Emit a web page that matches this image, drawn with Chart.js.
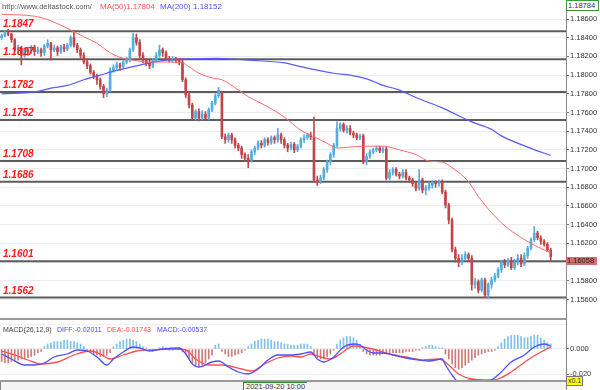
<!DOCTYPE html>
<html><head><meta charset="utf-8">
<script src="https://cdn.jsdelivr.net/npm/chart.js@4.4.1/dist/chart.umd.min.js"></script>
<style>
html,body{margin:0;padding:0;background:#fff;}
#wrap{position:relative;width:600px;height:390px;overflow:hidden;background:#fff;font-family:'Liberation Sans',Arial,sans-serif;}
canvas{position:absolute;left:0;}
.t{position:absolute;font-size:8px;line-height:9px;white-space:nowrap;}
.m{font-size:7px;}
.lv{position:absolute;left:3px;font:italic bold 10px 'Liberation Sans',Arial,sans-serif;line-height:10px;color:#ff1a1a;white-space:nowrap;}
</style></head><body>
<div id="wrap">
<canvas id="main" width="600" height="320" style="top:0"></canvas>
<canvas id="macd" width="600" height="70" style="top:320px"></canvas>
<div style="position:absolute;left:0;top:318px;width:566px;height:2px;background:#9a9a9a"></div>
<div style="position:absolute;left:0;top:324px;width:566px;height:1px;background:#eeeeee"></div>
<div style="position:absolute;left:0;top:380px;width:566px;height:2px;background:#9a9a9a"></div>
<div style="position:absolute;left:0;top:382px;width:566px;height:8px;background:#f3f3f3;border-left:1px solid #888"></div>
<div style="position:absolute;left:566px;top:0;width:1px;height:390px;background:#8a8a8a"></div>
<div class="t" style="left:2px;top:2px;color:#555;font-size:7.6px">http://www.deltastock.com/</div>
<div class="t" style="left:100px;top:2px;color:#ff5050">MA(50)</div>
<div class="t" style="left:126px;top:2px;color:#ff5050">1.17804</div>
<div class="t" style="left:160px;top:2px;color:#5050ff">MA(200)</div>
<div class="t" style="left:193px;top:2px;color:#5050ff">1.18152</div>
<div class="t m" style="left:3px;top:325px;color:#444">MACD(26,12,9)</div>
<div class="t m" style="left:57px;top:325px;color:#4a4aff">DIFF:-0.02011</div>
<div class="t m" style="left:107px;top:325px;color:#ff4a4a">DEA:-0.01743</div>
<div class="t m" style="left:157px;top:325px;color:#4a4aff">MACD:-0.00537</div>
<div class="t" style="left:243px;top:382px;height:8px;padding:0 2px;background:#fafafa;border-left:1px solid #2a8a2a;border-top:1px solid #2a8a2a;color:#333;font-size:7.5px;line-height:8px;overflow:hidden">2021-09-20 10:00</div>
<div class="t" style="left:566px;top:376px;width:15px;height:8px;background:#ffff00;border:1px solid #777;color:#333;font-size:7px;line-height:8px;text-align:center">x0.1</div>
<div id="topBox" class="t" style="left:566px;top:0;width:30px;height:9px;background:#fff;border:1px solid #3c9a3c;color:#333;font-size:7.5px;line-height:9px;padding-left:1px"></div>
<div id="lastBox" class="t" style="left:566px;width:30px;height:8px;background:#d86c6c;color:#222;font-size:7.5px;line-height:8px;padding-left:1px"></div>
</div>
<script>
// ---- price data (EUR/USD candles) ----
const opens = [
1.1840,1.1842,1.1845,1.1844,1.1838,1.1827,1.1829,1.1821,1.1827,1.1825,
1.1830,1.1825,1.1827,1.1824,1.1831,1.1834,1.1827,1.1829,1.1825,1.1830,
1.1828,1.1832,1.1840,1.1832,1.1827,1.1821,1.1814,1.1810,1.1803,1.1799,
1.1795,1.1788,1.1780,1.1784,1.1805,1.1808,1.1811,1.1809,1.1814,1.1816,
1.1827,1.1840,1.1835,1.1821,1.1816,1.1813,1.1810,1.1816,1.1821,1.1827,
1.1824,1.1818,1.1816,1.1818,1.1816,1.1814,1.1795,1.1779,1.1768,1.1754,
1.1761,1.1754,1.1758,1.1754,1.1763,1.1770,1.1778,1.1781,1.1734,1.1731,
1.1736,1.1731,1.1725,1.1722,1.1715,1.1711,1.1709,1.1718,1.1722,1.1727,
1.1725,1.1731,1.1728,1.1733,1.1731,1.1736,1.1731,1.1725,1.1722,1.1726,
1.1720,1.1724,1.1731,1.1733,1.1736,1.1734,1.1688,1.1686,1.1690,1.1699,
1.1707,1.1715,1.1725,1.1743,1.1747,1.1741,1.1743,1.1738,1.1736,1.1733,
1.1735,1.1707,1.1713,1.1718,1.1720,1.1722,1.1719,1.1721,1.1690,1.1696,
1.1699,1.1694,1.1692,1.1696,1.1690,1.1688,1.1684,1.1679,1.1688,1.1677,
1.1679,1.1682,1.1685,1.1684,1.1686,1.1675,1.1661,1.1645,1.1613,1.1604,
1.1600,1.1604,1.1608,1.1604,1.1576,1.1579,1.1570,1.1581,1.1565,1.1576,
1.1581,1.1585,1.1592,1.1600,1.1597,1.1602,1.1594,1.1600,1.1604,1.1598,
1.1607,1.1615,1.1624,1.1631,1.1626,1.1622,1.1619,1.1613];
const highs = [
1.1844,1.1847,1.1849,1.1845,1.1839,1.1832,1.1831,1.1829,1.1830,1.1832,
1.1832,1.1830,1.1829,1.1833,1.1838,1.1835,1.1832,1.1831,1.1832,1.1833,
1.1834,1.1842,1.1848,1.1834,1.1829,1.1824,1.1816,1.1812,1.1805,1.1801,
1.1797,1.1790,1.1786,1.1808,1.1811,1.1814,1.1813,1.1816,1.1819,1.1829,
1.1845,1.1844,1.1838,1.1824,1.1818,1.1816,1.1818,1.1824,1.1832,1.1829,
1.1826,1.1820,1.1820,1.1819,1.1818,1.1816,1.1797,1.1782,1.1770,1.1763,
1.1764,1.1762,1.1761,1.1765,1.1772,1.1780,1.1787,1.1783,1.1737,1.1738,
1.1738,1.1733,1.1727,1.1724,1.1717,1.1715,1.1720,1.1724,1.1730,1.1730,
1.1733,1.1733,1.1735,1.1735,1.1743,1.1738,1.1733,1.1727,1.1728,1.1728,
1.1726,1.1733,1.1736,1.1738,1.1739,1.1755,1.1692,1.1693,1.1701,1.1709,
1.1717,1.1727,1.1750,1.1749,1.1749,1.1746,1.1746,1.1740,1.1738,1.1737,
1.1737,1.1716,1.1720,1.1722,1.1724,1.1724,1.1723,1.1723,1.1699,1.1701,
1.1701,1.1696,1.1699,1.1699,1.1692,1.1690,1.1686,1.1699,1.1690,1.1682,
1.1685,1.1687,1.1687,1.1688,1.1688,1.1677,1.1663,1.1647,1.1616,1.1608,
1.1608,1.1611,1.1610,1.1607,1.1583,1.1581,1.1583,1.1583,1.1578,1.1584,
1.1588,1.1594,1.1602,1.1603,1.1604,1.1605,1.1603,1.1608,1.1608,1.1610,
1.1617,1.1626,1.1638,1.1633,1.1628,1.1624,1.1621,1.1615];
const lows = [
1.1838,1.1841,1.1842,1.1835,1.1825,1.1824,1.1811,1.1819,1.1821,1.1823,
1.1821,1.1823,1.1820,1.1821,1.1829,1.1816,1.1825,1.1821,1.1823,1.1825,
1.1826,1.1830,1.1830,1.1824,1.1818,1.1812,1.1807,1.1801,1.1796,1.1790,
1.1785,1.1776,1.1777,1.1782,1.1803,1.1805,1.1805,1.1807,1.1812,1.1814,
1.1825,1.1832,1.1818,1.1813,1.1810,1.1807,1.1808,1.1814,1.1819,1.1820,
1.1816,1.1814,1.1814,1.1813,1.1811,1.1793,1.1776,1.1765,1.1752,1.1752,
1.1751,1.1752,1.1752,1.1752,1.1761,1.1768,1.1776,1.1732,1.1727,1.1728,
1.1727,1.1722,1.1719,1.1711,1.1708,1.1701,1.1707,1.1715,1.1720,1.1722,
1.1723,1.1725,1.1726,1.1727,1.1728,1.1727,1.1722,1.1718,1.1720,1.1717,
1.1718,1.1722,1.1728,1.1731,1.1731,1.1686,1.1682,1.1684,1.1688,1.1696,
1.1704,1.1712,1.1723,1.1740,1.1739,1.1738,1.1736,1.1733,1.1731,1.1731,
1.1705,1.1704,1.1711,1.1716,1.1718,1.1717,1.1717,1.1688,1.1688,1.1693,
1.1692,1.1689,1.1690,1.1688,1.1685,1.1681,1.1676,1.1677,1.1674,1.1672,
1.1677,1.1679,1.1680,1.1681,1.1673,1.1658,1.1641,1.1611,1.1600,1.1595,
1.1597,1.1602,1.1601,1.1570,1.1572,1.1567,1.1568,1.1562,1.1562,1.1572,
1.1579,1.1583,1.1589,1.1594,1.1595,1.1592,1.1592,1.1597,1.1595,1.1596,
1.1604,1.1613,1.1622,1.1624,1.1619,1.1617,1.1611,1.1602];
const closes = [
1.1842,1.1845,1.1844,1.1838,1.1827,1.1829,1.1821,1.1827,1.1825,1.1830,
1.1825,1.1827,1.1824,1.1831,1.1834,1.1827,1.1829,1.1825,1.1830,1.1828,
1.1832,1.1840,1.1832,1.1827,1.1821,1.1814,1.1810,1.1803,1.1799,1.1795,
1.1788,1.1780,1.1784,1.1805,1.1808,1.1811,1.1809,1.1814,1.1816,1.1827,
1.1840,1.1835,1.1821,1.1816,1.1813,1.1810,1.1816,1.1821,1.1827,1.1824,
1.1818,1.1816,1.1818,1.1816,1.1814,1.1795,1.1779,1.1768,1.1754,1.1761,
1.1754,1.1758,1.1754,1.1763,1.1770,1.1778,1.1784,1.1734,1.1731,1.1736,
1.1731,1.1725,1.1722,1.1715,1.1711,1.1709,1.1718,1.1722,1.1727,1.1725,
1.1731,1.1728,1.1733,1.1731,1.1736,1.1731,1.1725,1.1722,1.1726,1.1720,
1.1724,1.1731,1.1733,1.1736,1.1734,1.1688,1.1686,1.1690,1.1699,1.1707,
1.1715,1.1725,1.1743,1.1747,1.1741,1.1743,1.1738,1.1736,1.1733,1.1735,
1.1707,1.1713,1.1718,1.1720,1.1722,1.1719,1.1721,1.1690,1.1696,1.1699,
1.1694,1.1692,1.1696,1.1690,1.1688,1.1684,1.1679,1.1688,1.1677,1.1679,
1.1682,1.1685,1.1684,1.1686,1.1675,1.1661,1.1645,1.1613,1.1604,1.1600,
1.1604,1.1608,1.1604,1.1576,1.1579,1.1570,1.1581,1.1565,1.1576,1.1581,
1.1585,1.1592,1.1600,1.1597,1.1602,1.1594,1.1600,1.1604,1.1598,1.1607,
1.1615,1.1624,1.1631,1.1626,1.1622,1.1619,1.1613,1.16058];

// moving averages (candle index -> value)
const ma50At = [0,10,15,20,25,29,33,36,40,45,50,55,57,60,64,67,70,75,81,86,91,95,99,102,106,111,116,121,126,130,134,137,142,145,152,161,167];
const ma50 = [1.1865,1.1863,1.1858,1.1850,1.1841,1.1834,1.1824,1.1819,1.1816,1.1814,1.1814,1.1813,1.1809,1.1802,1.1797,1.1795,1.1789,1.1777,1.1766,1.1755,1.1741,1.1734,1.1727,1.1722,1.1723,1.1724,1.1724,1.1720,1.1715,1.1708,1.1707,1.1701,1.1686,1.1670,1.1642,1.1620,1.1610];
const ma200At = [0,10,15,20,25,30,35,40,45,50,55,65,75,86,91,101,106,111,116,121,126,134,143,149,152,160,167];
const ma200 = [1.1780,1.1782,1.1786,1.1789,1.1795,1.1800,1.1805,1.1809,1.1813,1.1816,1.1817,1.1818,1.1816,1.1813,1.1809,1.1802,1.1800,1.1796,1.1789,1.1784,1.1776,1.1765,1.1750,1.1742,1.1735,1.1723,1.1714];

// horizontal levels
const levels = [1.1847,1.1817,1.1782,1.1752,1.1708,1.1686,1.1601,1.1562];

// MACD pane
const macdTicks = [-0.02, 0];
const diffAt = [0,3,7,10,13,16,20,23,26,29,32,34,37,40,42,45,49,54,56,58,60,64,66,69,72,75,78,81,84,88,91,94,96,98,101,104,107,109,111,113,116,119,123,127,130,134,135,137,139,143,148,151,155,159,162,165,167];
const diff = [-0.0040,-0.0080,-0.0128,-0.0128,-0.0112,-0.0064,-0.0040,-0.0008,-0.0016,-0.0064,-0.0128,-0.0080,-0.0024,0.0016,0.0008,-0.0016,0.0000,0.0008,-0.0040,-0.0120,-0.0144,-0.0104,-0.0096,-0.0144,-0.0184,-0.0200,-0.0160,-0.0088,-0.0048,-0.0048,-0.0040,-0.0024,-0.0080,-0.0104,-0.0064,0.0016,0.0040,0.0032,-0.0008,-0.0032,-0.0032,-0.0048,-0.0072,-0.0088,-0.0096,-0.0080,-0.0128,-0.0208,-0.0264,-0.0248,-0.0256,-0.0208,-0.0104,-0.0048,0.0016,0.0040,0.0024];
const deaAt = [0,4,8,12,17,22,27,30,33,37,41,46,52,56,59,63,67,73,76,80,84,88,91,94,97,100,103,107,110,114,118,123,128,133,136,139,143,148,151,155,160,164,167];
const dea = [-0.0016,-0.0048,-0.0088,-0.0120,-0.0104,-0.0048,-0.0016,-0.0040,-0.0080,-0.0048,-0.0016,-0.0008,0.0000,-0.0008,-0.0080,-0.0128,-0.0128,-0.0160,-0.0176,-0.0120,-0.0072,-0.0056,-0.0064,-0.0040,-0.0064,-0.0080,-0.0040,0.0024,0.0016,-0.0008,-0.0040,-0.0064,-0.0088,-0.0080,-0.0128,-0.0200,-0.0240,-0.0248,-0.0240,-0.0184,-0.0088,-0.0024,0.0016];
const macdHist = [
-0.010,-0.011,-0.011,-0.010,-0.010,-0.009,-0.008,-0.008,-0.007,-0.006,-0.005,-0.003,-0.002,
0.002,0.004,0.005,0.006,0.006,0.006,0.007,0.007,0.006,0.006,0.005,0.004,0.002,
-0.002,-0.003,-0.004,-0.005,-0.006,-0.006,-0.005,-0.003,
0.002,0.004,0.006,0.007,0.008,0.008,0.007,0.006,0.004,
0.002,0.001,-0.001,-0.002,-0.001,0.001,0.002,0.001,-0.001,-0.001,0.000,0.001,-0.002,
-0.004,-0.008,-0.011,-0.013,-0.014,-0.013,-0.011,-0.008,-0.005,
0.003,0.004,
-0.002,-0.004,-0.006,-0.006,-0.005,-0.004,-0.003,-0.001,
0.002,0.004,0.006,0.007,0.008,0.008,0.008,0.007,0.006,0.006,0.005,0.004,0.004,
0.003,0.003,0.003,0.004,0.004,0.004,0.002,
-0.004,-0.007,-0.008,-0.008,-0.006,-0.004,-0.001,
0.004,0.007,0.009,0.010,0.010,0.009,0.007,0.004,
-0.002,-0.004,-0.005,-0.005,-0.005,-0.005,-0.004,-0.004,-0.004,-0.003,-0.003,-0.003,-0.003,-0.002,-0.002,-0.002,-0.001,-0.001,
0.001,0.002,0.003,0.003,0.002,0.001,0.001,
-0.004,-0.008,-0.012,-0.015,-0.016,-0.015,-0.013,-0.011,-0.009,-0.007,-0.005,
-0.004,-0.003,-0.002,-0.002,-0.001,
0.002,0.005,0.008,0.010,0.011,0.011,0.011,0.010,0.009,0.009,0.010,0.011,0.011,0.009,0.007,0.005,0.004];

// ---- build charts ----
Chart.defaults.font.family = "'Liberation Sans', Arial, sans-serif";
const N = closes.length;
const idx = closes.map((_, i) => i);
const UP = '#55acdf', DN = '#c1464a';
const cCol = idx.map(i => closes[i] >= opens[i] ? UP : DN);
const xMin = -0.49, xMax = 171.65;
const yMin = 1.15402, yMax = 1.18782;

const common = () => ({
  responsive: false, animation: false, devicePixelRatio: 1,
  plugins: { legend: { display: false }, tooltip: { enabled: false } },
  scales: {
    x: { type: 'linear', min: xMin, max: xMax, offset: false, display: false }
  }
});

const mainOpts = common();
mainOpts.layout = { padding: { top: 2, bottom: 2, left: 0, right: 0 } };
mainOpts.scales.y = {
  type: 'linear', position: 'right', min: yMin, max: yMax,
  afterFit(s) { s.width = 34; s.paddingTop = 0; s.paddingBottom = 0; },
  afterBuildTicks(s) { s.ticks = s.ticks.filter(t => Math.abs(t.value * 500 - Math.round(t.value * 500)) < 1e-6); },
  ticks: { stepSize: 0.002, autoSkip: false, callback: v => Number(v).toFixed(5), color: '#333', font: { size: 7.5 }, padding: 1 },
  grid: { color: '#ececec', tickColor: '#777', tickLength: 3 },
  border: { display: false }
};

const lineDs = (at, vals, color, w, order) => ({
  type: 'line', data: at.map((x, k) => ({ x, y: vals[k] })), borderColor: color, borderWidth: w,
  pointRadius: 0, cubicInterpolationMode: 'monotone', order
});

const mainChart = new Chart(document.getElementById('main'), {
  type: 'bar',
  data: {
    datasets: [
      lineDs(ma50At, ma50, '#ff6b6b', 1, 0),
      lineDs(ma200At, ma200, '#5a5aff', 1.2, 0),
      { type: 'bar', data: idx.map(i => ({ x: i, y: [opens[i], closes[i]] })), backgroundColor: cCol,
        barThickness: 2, minBarLength: 1, grouped: false, order: 1 },
      { type: 'bar', data: idx.map(i => ({ x: i, y: [lows[i], highs[i]] })), backgroundColor: cCol,
        barThickness: 1, grouped: false, order: 2 },
      ...levels.map(v => ({ type: 'line', data: [{ x: xMin, y: v }, { x: xMax, y: v }],
        borderColor: '#5c5c5c', borderWidth: 2, pointRadius: 0, order: 3 }))
    ]
  },
  options: mainOpts
});

const macdOpts = common();
macdOpts.layout = { padding: { top: 5, bottom: 9, left: 0, right: 0 } };
macdOpts.scales.y = {
  type: 'linear', position: 'right', min: -0.0256, max: 0.0192,
  afterFit(s) { s.width = 34; s.paddingTop = 0; s.paddingBottom = 0; },
  afterBuildTicks(s) { s.ticks = macdTicks.map(v => ({ value: v })); },
  ticks: { autoSkip: false, callback: v => Number(v).toFixed(3), color: '#333', font: { size: 7.5 }, padding: 1 },
  grid: { color: '#ececec', tickColor: '#777', tickLength: 3 },
  border: { display: false }
};

new Chart(document.getElementById('macd'), {
  type: 'bar',
  data: {
    datasets: [
      lineDs(diffAt, diff, '#4f4fff', 1.3, 0),
      lineDs(deaAt, dea, '#ff4f4f', 1.3, 0),
      { type: 'bar', data: idx.map(i => ({ x: i, y: macdHist[i] })),
        backgroundColor: macdHist.map(v => v >= 0 ? '#7dc1e8' : '#cf7a7a'),
        barThickness: 1, grouped: false, order: 2 }
    ]
  },
  options: macdOpts
});

// text labels positioned through the price scale
const ys = mainChart.scales.y;
const wrap = document.getElementById('wrap');
levels.forEach(v => {
  const d = document.createElement('div');
  d.className = 'lv';
  d.textContent = v.toFixed(4);
  d.style.top = (ys.getPixelForValue(v) - 12) + 'px';
  wrap.appendChild(d);
});
const topBox = document.getElementById('topBox');
topBox.textContent = '1.18784';
topBox.style.top = Math.max(0, ys.getPixelForValue(yMax) - 2) + 'px';
const lastBox = document.getElementById('lastBox');
lastBox.textContent = closes[N - 1].toFixed(5);
lastBox.style.top = ys.getPixelForValue(closes[N - 1]) + 'px';
</script>
</body></html>
